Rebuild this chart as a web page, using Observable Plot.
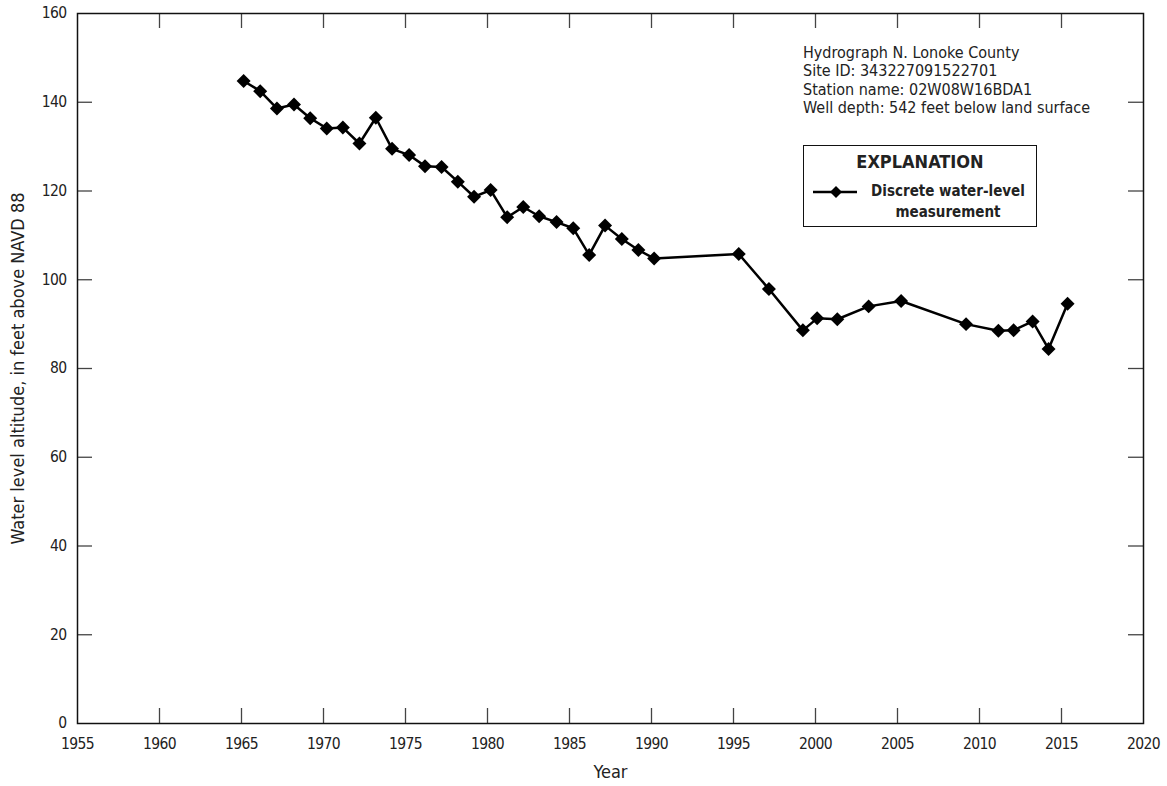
<!DOCTYPE html>
<html>
<head>
<meta charset="utf-8">
<script src="https://cdn.jsdelivr.net/npm/d3@7"></script>
<script src="https://cdn.jsdelivr.net/npm/@observablehq/plot@0.6"></script>
<style>
  html, body { margin: 0; padding: 0; background: #fff; }
  #wrap { position: relative; width: 1167px; height: 786px; font-family: "DejaVu Sans Condensed", "DejaVu Sans", sans-serif; font-stretch: condensed; color: #222; }
  #chart svg { font-stretch: condensed; }
  #chart svg g[aria-label="x-axis tick label"] text, #chart svg g[aria-label="y-axis tick label"] text { letter-spacing: -0.6px; }
  #info { position: absolute; left: 803px; top: 44px; font-size: 16px; line-height: 18.3px; white-space: nowrap; }
  #legend { position: absolute; left: 803px; top: 145px; width: 234px; height: 82px; border: 1.5px solid #111; box-sizing: border-box; background: #fff; }
  #legend .ttl { position: absolute; left: 0; width: 100%; top: 5px; text-align: center; font-weight: bold; font-size: 18px; line-height: 22px; white-space: nowrap; }
  #legend .lab { position: absolute; left: 54px; top: 35px; width: 180px; text-align: center; font-weight: bold; font-size: 15px; line-height: 21px; white-space: nowrap; }
  #legend svg { position: absolute; left: 8px; top: 38px; }
</style>
</head>
<body>
<div id="wrap">
  <div id="chart"></div>
  <div id="info"></div>
  <div id="legend">
    <div class="ttl">EXPLANATION</div>
    <svg width="48" height="16"><line x1="1" y1="8" x2="45" y2="8" stroke="#000" stroke-width="2.5"/><path d="M24,2 L30,8 L24,14 L18,8 Z" fill="#000"/></svg>
    <div class="lab">Discrete water-level<br>measurement</div>
  </div>
</div>
<script>
const years = [1965.13, 1966.14, 1967.16, 1968.2, 1969.19, 1970.2, 1971.18, 1972.19, 1973.19, 1974.18,
  1975.22, 1976.19, 1977.2, 1978.19, 1979.18, 1980.19, 1981.2, 1982.18, 1983.15, 1984.21,
  1985.23, 1986.2, 1987.17, 1988.19, 1989.2, 1990.16, 1995.32, 1997.16, 1999.23, 2000.1,
  2001.33, 2003.24, 2005.22, 2009.18, 2011.15, 2012.08, 2013.24, 2014.21, 2015.37];
const levels = [144.8, 142.5, 138.6, 139.5, 136.4, 134.1, 134.3, 130.7, 136.5, 129.5,
  128.1, 125.6, 125.4, 122.1, 118.7, 120.2, 114.1, 116.4, 114.3, 113.0,
  111.6, 105.6, 112.2, 109.2, 106.7, 104.8, 105.8, 97.9, 88.6, 91.3,
  91.1, 94.0, 95.2, 90.0, 88.5, 88.6, 90.6, 84.4, 94.6];
const xTicks = [1955, 1960, 1965, 1970, 1975, 1980, 1985, 1990, 1995, 2000, 2005, 2010, 2015, 2020];
const yTicks = [0, 20, 40, 60, 80, 100, 120, 140, 160];
const infoLines = ["Hydrograph N. Lonoke County", "Site ID: 343227091522701", "Station name: 02W08W16BDA1", "Well depth: 542 feet below land surface"];
const xTitle = "Year";
const yTitle = "Water level altitude, in feet above NAVD 88";

const data = years.map((y, i) => ({year: y, level: levels[i]}));
const font = '"DejaVu Sans Condensed", "DejaVu Sans", sans-serif';

const W = 1167, H = 786, mL = 77, mR = 24, mT = 13, mB = 63;
const plotW = W - mL - mR, plotH = H - mT - mB, tickLen = 15;
const innerX = xTicks.slice(1, -1), innerY = yTicks.slice(1, -1);

const chart = Plot.plot({
  width: W,
  height: H,
  marginLeft: mL,
  marginRight: mR,
  marginTop: mT,
  marginBottom: mB,
  style: {fontFamily: font, fontSize: "15px", color: "#222", background: "#fff"},
  x: {domain: [1955, 2020], label: null},
  y: {domain: [0, 160], label: null},
  marks: [
    Plot.tickX(innerX, {x: d => d, insetTop: plotH - tickLen, stroke: "#444", strokeWidth: 1.3}),
    Plot.tickX(innerX, {x: d => d, insetBottom: plotH - tickLen, stroke: "#444", strokeWidth: 1.3}),
    Plot.tickY(innerY, {y: d => d, insetRight: plotW - tickLen, stroke: "#444", strokeWidth: 1.3}),
    Plot.tickY(innerY, {y: d => d, insetLeft: plotW - tickLen, stroke: "#444", strokeWidth: 1.3}),
    Plot.axisX(xTicks, {anchor: "bottom", tickSize: 0, tickPadding: 14, tickFormat: d => String(d), fontSize: 15.5, fill: "#222"}),
    Plot.axisY(yTicks, {anchor: "left", tickSize: 0, tickPadding: 11, fontSize: 15.5, fill: "#222"}),
    Plot.frame({stroke: "#111", strokeWidth: 1.5}),
    Plot.line(data, {x: "year", y: "level", stroke: "#000", strokeWidth: 2.5}),
    Plot.dot(data, {x: "year", y: "level", symbol: "diamond2", r: 6.3, fill: "#000", stroke: "none"}),
    Plot.text([xTitle], {frameAnchor: "bottom", dy: 54, fontSize: 18, fill: "#222"}),
    Plot.text([yTitle], {frameAnchor: "left", textAnchor: "middle", rotate: -90, dx: -59, fontSize: 18, fill: "#222"})
  ]
});
document.getElementById("chart").appendChild(chart);
document.getElementById("info").innerHTML = infoLines.map(s => `<div>${s}</div>`).join("");
</script>
</body>
</html>
